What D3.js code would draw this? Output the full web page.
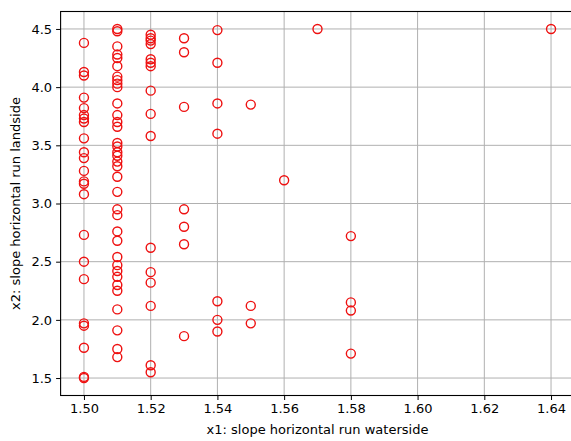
<!DOCTYPE html>
<html>
<head>
<meta charset="utf-8">
<script src="https://cdn.jsdelivr.net/npm/d3@7"></script>
<style>
  html, body { margin: 0; padding: 0; background: #fff; overflow: hidden; }
  svg { display: block; }
  text { font-family: "DejaVu Sans", sans-serif; fill: #000; }
</style>
</head>
<body>
<script>
// x1 values for each column and the x2 values
const col150 = [4.38, 4.13, 4.10, 3.91, 3.82, 3.76, 3.73, 3.70, 3.56, 3.44, 3.39, 3.28, 3.19, 3.17, 3.08, 2.73, 2.50, 2.35, 1.97, 1.95, 1.76, 1.51, 1.50];
const col151 = [4.50, 4.48, 4.35, 4.28, 4.25, 4.18, 4.09, 4.06, 4.03, 4.00, 3.86, 3.76, 3.70, 3.66, 3.52, 3.49, 3.44, 3.41, 3.36, 3.32, 3.23, 3.10, 2.95, 2.90, 2.76, 2.68, 2.54, 2.47, 2.42, 2.37, 2.30, 2.25, 2.09, 1.91, 1.75, 1.68];
const col152 = [4.45, 4.42, 4.40, 4.37, 4.24, 4.21, 4.18, 3.97, 3.77, 3.58, 2.62, 2.41, 2.32, 2.12, 1.61, 1.55];
const col153 = [4.42, 4.30, 3.83, 2.95, 2.80, 2.65, 1.86];
const col154 = [4.49, 4.21, 3.86, 3.60, 2.16, 2.00, 1.90];
const col155 = [3.85, 2.12, 1.97];
const col156 = [3.20];
const col157 = [4.50];
const col158 = [2.72, 2.15, 2.08, 1.71];
const col164 = [4.50];

const columnX = [1.50, 1.51, 1.52, 1.53, 1.54, 1.55, 1.56, 1.57, 1.58, 1.64];
const columnY = [col150, col151, col152, col153, col154, col155, col156, col157, col158, col164];

const xTicks = [1.50, 1.52, 1.54, 1.56, 1.58, 1.60, 1.62, 1.64];
const yTicks = [1.5, 2.0, 2.5, 3.0, 3.5, 4.0, 4.5];
const xLabel = "x1: slope horizontal run waterside";
const yLabel = "x2: slope horizontal run landside";

const points = [];
columnX.forEach((xv, i) => columnY[i].forEach(yv => points.push({x: xv, y: yv})));

const W = 571, H = 441;
const pL = 60.6, pR = 574.4, pT = 11.5, pB = 395.5;

const svg = d3.select("body").append("svg").attr("width", W).attr("height", H);

const x = d3.scaleLinear().domain([1.493, 1.647]).range([pL, pR]);
const y = d3.scaleLinear().domain([1.35, 4.65]).range([pB, pT]);

svg.append("defs").append("clipPath").attr("id", "clip")
  .append("rect").attr("x", pL).attr("y", pT).attr("width", pR - pL).attr("height", pB - pT);

// grid
const grid = svg.append("g").attr("clip-path", "url(#clip)");
grid.selectAll("line.gx").data(xTicks).join("line").attr("class", "gx")
  .attr("x1", d => x(d)).attr("x2", d => x(d)).attr("y1", pT).attr("y2", pB)
  .attr("stroke", "#b0b0b0").attr("stroke-width", 1);
grid.selectAll("line.gy").data(yTicks).join("line").attr("class", "gy")
  .attr("x1", pL).attr("x2", pR).attr("y1", d => y(d)).attr("y2", d => y(d))
  .attr("stroke", "#b0b0b0").attr("stroke-width", 1);

// points
svg.append("g").attr("clip-path", "url(#clip)")
  .selectAll("circle").data(points).join("circle")
  .attr("cx", d => x(d.x)).attr("cy", d => y(d.y)).attr("r", 4.5)
  .attr("fill", "none").attr("stroke", "#ee1111").attr("stroke-width", 1.4);

// frame
svg.append("rect").attr("x", pL).attr("y", pT).attr("width", pR - pL).attr("height", pB - pT)
  .attr("fill", "none").attr("stroke", "#000").attr("stroke-width", 1.1);

// axes
const xAxis = d3.axisBottom(x).tickValues(xTicks).tickFormat(d3.format(".2f")).tickSize(4.5).tickPadding(4);
const gx = svg.append("g").attr("transform", `translate(0,${pB})`).call(xAxis);
gx.select(".domain").remove();
gx.selectAll("text").attr("font-size", 13).attr("font-family", "DejaVu Sans, sans-serif").attr("fill", "#000");

const yAxis = d3.axisLeft(y).tickValues(yTicks).tickFormat(d3.format(".1f")).tickSize(4.5).tickPadding(4);
const gy = svg.append("g").attr("transform", `translate(${pL},0)`).call(yAxis);
gy.select(".domain").remove();
gy.selectAll("text").attr("font-size", 13).attr("font-family", "DejaVu Sans, sans-serif").attr("fill", "#000");

svg.append("text").attr("x", (pL + pR) / 2).attr("y", 434)
  .attr("text-anchor", "middle").attr("font-size", 13).text(xLabel);
svg.append("text").attr("transform", `translate(20,${(pT + pB) / 2}) rotate(-90)`)
  .attr("text-anchor", "middle").attr("font-size", 13).text(yLabel);
</script>
</body>
</html>
